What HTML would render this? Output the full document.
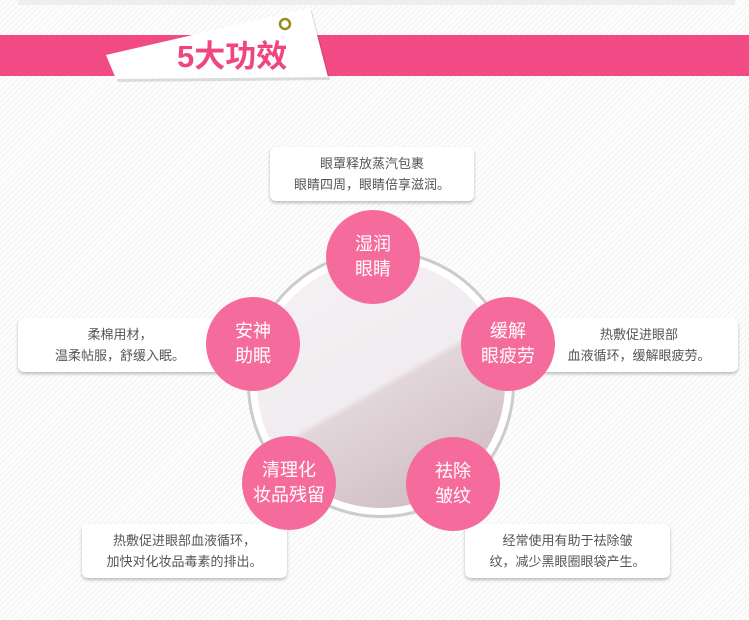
<!DOCTYPE html>
<html><head><meta charset="utf-8"><style>
body{margin:0;width:749px;height:620px;overflow:hidden;font-family:"Liberation Sans","Noto Sans CJK SC",sans-serif;
background:#fbfbfb repeating-linear-gradient(135deg,#f2f2f2 0 1px,#fdfdfd 1px 4px);position:relative}
.box{position:absolute;background:#fff;border-radius:6px;box-shadow:0 2px 3px rgba(0,0,0,.25);font-size:13px;color:#555;line-height:21px;text-align:center;display:flex;align-items:center;justify-content:center}
.c{position:absolute;z-index:2;width:94px;height:94px;border-radius:50%;background:#f56c9c;color:#fff;font-size:18px;line-height:25px;text-align:center;display:flex;align-items:center;justify-content:center}
</style></head><body>
<div style="position:absolute;left:18px;top:0;width:717px;height:5px;background:#eee"></div>
<div style="position:absolute;left:0;top:35px;width:749px;height:41px;background:#f24a84"></div>
<svg style="position:absolute;left:0;top:0" width="749" height="90">
<polygon points="106,55 310,8 328,77 116,79" fill="#000" opacity=".12" transform="translate(2,3)"/>
<polygon points="106,55 310,8 328,77 116,79" fill="#fff"/>
<circle cx="285" cy="24" r="5" fill="none" stroke="#9a8a20" stroke-width="2.5"/>
<text x="177" y="67" font-size="31" font-weight="bold" fill="#f0457f" font-family="Liberation Sans,Noto Sans CJK SC,sans-serif">5大功效</text>
</svg>
<div style="position:absolute;left:247px;top:250px;width:262px;height:262px;border-radius:50%;border:3px solid #ccc;background:#fff"></div>
<div style="position:absolute;left:257px;top:260px;width:248px;height:248px;border-radius:50%;background:linear-gradient(150deg,#f5f1f4 0%,#f1ecef 50%,#e2d6db 52%,#c9b7bd 100%)"></div>
<div class="box" style="left:270px;top:147px;width:204px;height:54px">眼罩释放蒸汽包裹<br>眼睛四周，眼睛倍享滋润。</div>
<div class="box" style="left:18px;top:318px;width:204px;height:54px">柔棉用材，<br>温柔帖服，舒缓入眠。</div>
<div class="box" style="left:540px;top:318px;width:198px;height:54px">热敷促进眼部<br>血液循环，缓解眼疲劳。</div>
<div class="box" style="left:82px;top:524px;width:205px;height:54px">热敷促进眼部血液循环，<br>加快对化妆品毒素的排出。</div>
<div class="box" style="left:465px;top:524px;width:205px;height:54px">经常使用有助于祛除皱<br>纹，减少黑眼圈眼袋产生。</div>
<div class="c" style="left:326px;top:210px">湿润<br>眼睛</div>
<div class="c" style="left:461px;top:297px">缓解<br>眼疲劳</div>
<div class="c" style="left:406px;top:437px">祛除<br>皱纹</div>
<div class="c" style="left:242px;top:436px">清理化<br>妆品残留</div>
<div class="c" style="left:206px;top:297px">安神<br>助眠</div>
</body></html>
